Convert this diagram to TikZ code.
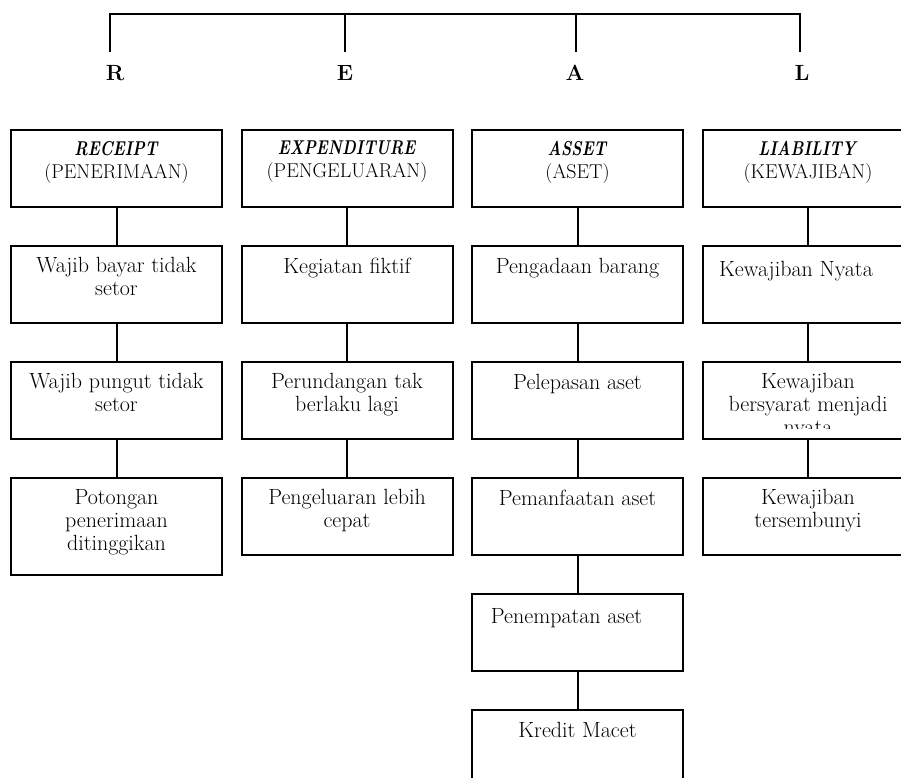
\documentclass[tikz,border=0pt]{standalone}
\usetikzlibrary{positioning}
\newcommand{\headword}[1]{\scalebox{0.79}[1]{\textbf{\textit{#1}}}}

\begin{document}
\begin{tikzpicture}[x=1pt, y=1pt, node distance=39pt and 19.5pt,
	box/.style={draw, line width=2pt, outer sep=0pt, minimum width=211pt, minimum height=77pt},
	txt/.style={anchor=north, align=center, inner sep=0pt, yshift=-11pt, font=\fontsize{22}{23}\selectfont, execute at begin node=\strut},
	head/.style={txt, font=\fontsize{20}{23}\selectfont},
	letter/.style={anchor=base, font=\fontsize{22}{23}\selectfont\bfseries},
	conn/.style={line width=2pt}]
\useasboundingbox (0,0) rectangle (901,-778);
\clip (0,0) rectangle (901,-778);

% REAL
\node[letter]                        (lr) at (115,-81) {R};
\node[letter]                        (le) at (345,-81) {E};
\node[letter]                        (la) at (575,-81) {A};
\node[letter]                        (ll) at (802,-81) {L};
\coordinate (br) at (110,-52);
\coordinate (be) at (345,-52);
\coordinate (ba) at (576,-52);
\coordinate (bl) at (800,-52);
\coordinate (tl) at (800,-14);

% boxes
\node[box]                           (rh) at (116.5,-168.5) {};
\node[box, right=of rh]              (eh) {};
\node[box, right=of eh]              (ah) {};
\node[box, right=of ah]              (lh) {};
\node[box, below=of rh]              (r1) {};
\node[box, below=of r1]              (r2) {};
\node[box, below=of r2, minimum height=97pt] (r3) {};
\node[box, below=of eh]              (e1) {};
\node[box, below=of e1]              (e2) {};
\node[box, below=of e2]              (e3) {};
\node[box, below=of ah]              (a1) {};
\node[box, below=of a1]              (a2) {};
\node[box, below=of a2]              (a3) {};
\node[box, below=of a3]              (a4) {};
\node[box, below=of a4]              (a5) {};
\node[box, below=of lh]              (l1) {};
\node[box, below=of l1]              (l2) {};
\node[box, below=of l2]              (l3) {};

% texts
\node[head] (rht) at (rh.north) {\headword{RECEIPT}\\(PENERIMAAN)};
\node[head] (eht) at (eh.north) {\headword{EXPENDITURE}\\(PENGELUARAN)};
\node[head] (aht) at (ah.north) {\headword{ASSET}\\(ASET)};
\node[head] (lht) at (lh.north) {\headword{LIABILITY}\\(KEWAJIBAN)};
\node[txt] (r1t) at (r1.north) {Wajib bayar tidak\\setor};
\node[txt] (r2t) at (r2.north) {Wajib pungut tidak\\setor};
\node[txt] (r3t) at (r3.north) {Potongan\\penerimaan\\ditinggikan};
\node[txt] (e1t) at (e1.north) {Kegiatan fiktif};
\node[txt] (e2t) at (e2.north) {Perundangan tak\\berlaku lagi};
\node[txt] (e3t) at (e3.north) {Pengeluaran lebih\\cepat};
\node[txt] (a1t) at (a1.north) {Pengadaan barang};
\node[txt] (a2t) at (a2.north) {Pelepasan aset};
\node[txt] (a3t) at (a3.north) {Pemanfaatan aset};
\node[txt, xshift=-11pt, yshift=-2pt] (a4t) at (a4.north) {Penempatan aset};
\node[txt] (a5t) at (a5.north) {Kredit Macet};
\node[txt, xshift=-12pt, yshift=-3pt] (l1t) at (l1.north) {Kewajiban Nyata};
\begin{scope}
\clip (l2.north west) rectangle ([yshift=11pt]l2.south east);
\node[txt] (l2t) at (l2.north) {Kewajiban\\bersyarat menjadi\\nyata};
\end{scope}
\node[txt] (l3t) at (l3.north) {Kewajiban\\tersembunyi};

% bracket and links
\draw[conn] (br) |- (tl) -- (bl);
\draw[conn] (be) -- (be |- tl);
\draw[conn] (ba) -- (ba |- tl);
\foreach \a/\b in {rh/r1, r1/r2, r2/r3, eh/e1, e1/e2, e2/e3,
	ah/a1, a1/a2, a2/a3, a3/a4, a4/a5, lh/l1, l1/l2, l2/l3}
	\draw[conn] (\a) -- (\b);
\end{tikzpicture}
\end{document}
